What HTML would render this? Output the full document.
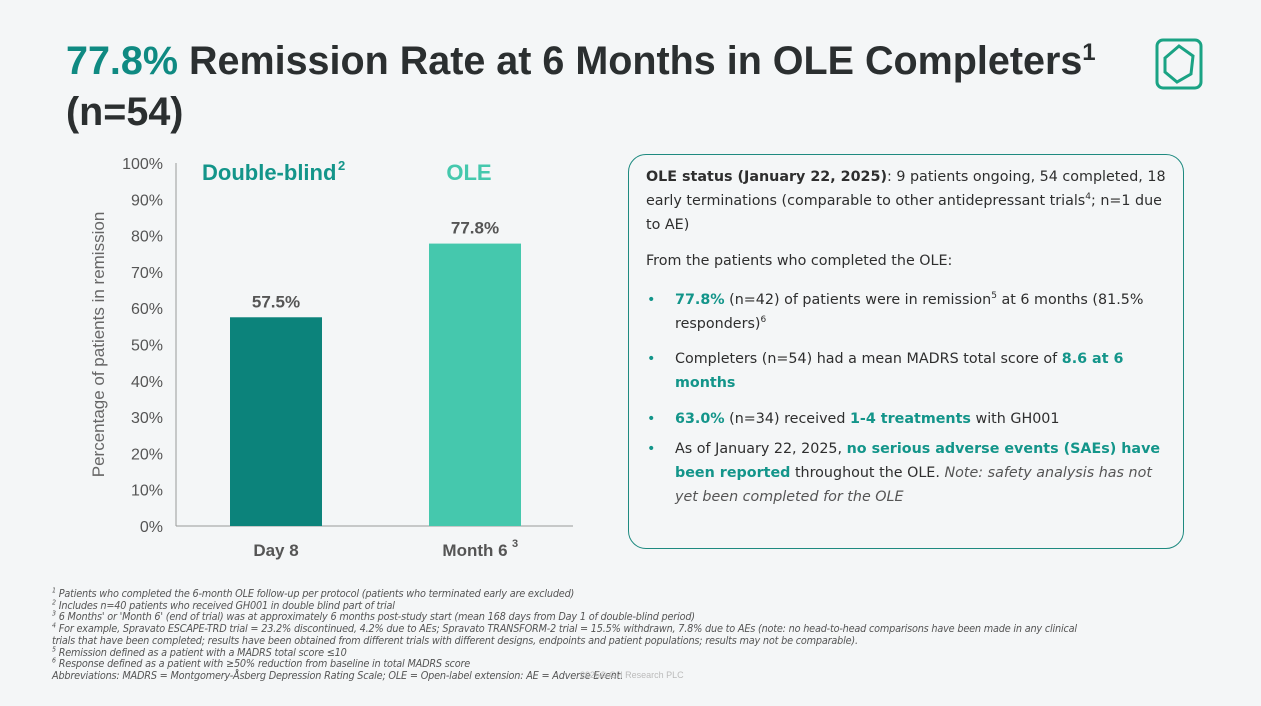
<!DOCTYPE html>
<html><head><meta charset="utf-8"><style>
body{margin:0;width:1261px;height:706px;overflow:hidden;background:#f4f6f7;font-family:"Liberation Sans",sans-serif;position:relative}
.t{position:absolute}
sup{line-height:0;vertical-align:super}
#title{left:66px;top:36px;font-size:39.5px;font-weight:bold;color:#2b2f30;line-height:51px}
#title .hl{color:#0f8a82}
#panel{left:628px;top:154px;width:556px;height:395px;border:1.5px solid #1e8a80;border-radius:18px;box-sizing:border-box;background:#f4f6f7}
.p{position:absolute;font-family:"DejaVu Sans","Liberation Sans",sans-serif;font-size:14.3px;color:#2e2e2e;line-height:24px}
.p sup{font-size:9px}
.g{color:#13958a;font-weight:bold}
.b{position:absolute;left:18px;color:#13958a}
.fn{position:absolute;left:52px;font-style:italic;font-size:10.8px;color:#555;line-height:11.7px;top:588px;font-family:"DejaVu Sans Condensed","Liberation Sans Narrow","Liberation Sans",sans-serif;letter-spacing:-0.2px}
.fn sup{font-size:7px}
</style></head><body>
<div class="t" id="title"><span class="hl">77.8%</span> Remission Rate at 6 Months in OLE Completers<sup style="font-size:24px">1</sup><br>(n=54)</div>
<svg class="t" style="left:1155px;top:38px" width="48" height="52" viewBox="0 0 48 52"><rect x="2" y="2" width="44" height="48" rx="6" fill="none" stroke="#1aa384" stroke-width="3"/><path d="M10 20 L24 8 L38 18 L36 36 L22 44 L10 34Z" fill="none" stroke="#1aa384" stroke-width="3"/></svg>
<svg class="t" id="chart" style="left:0;top:140px" width="620" height="430"></svg>
<div class="t" id="panel">
<div class="p" style="left:17px;top:10px;width:525px"><b>OLE status (January 22, 2025)</b>: 9 patients ongoing, 54 completed, 18 early terminations (comparable to other antidepressant trials<sup>4</sup>; n=1 due to AE)</div>
<div class="p" style="left:17px;top:94px">From the patients who completed the OLE:</div>
<div class="p" style="top:133px;left:0;width:540px"><span class="b">•</span><div style="margin-left:46px"><span class="g">77.8%</span> (n=42) of patients were in remission<sup>5</sup> at 6 months (81.5% responders)<sup>6</sup></div></div>
<div class="p" style="top:192px;left:0;width:540px"><span class="b">•</span><div style="margin-left:46px">Completers (n=54) had a mean MADRS total score of <span class="g">8.6 at 6 months</span></div></div>
<div class="p" style="top:252px;left:0;width:540px"><span class="b">•</span><div style="margin-left:46px"><span class="g">63.0%</span> (n=34) received <span class="g">1-4 treatments</span> with GH001</div></div>
<div class="p" style="top:282px;left:0;width:540px"><span class="b">•</span><div style="margin-left:46px">As of January 22, 2025, <span class="g">no serious adverse events (SAEs) have been reported</span> throughout the OLE. <i style="color:#555">Note: safety analysis has not yet been completed for the OLE</i></div></div>
</div>
<div class="fn">
<sup>1</sup> Patients who completed the 6-month OLE follow-up per protocol (patients who terminated early are excluded)<br>
<sup>2</sup> Includes n=40 patients who received GH001 in double blind part of trial<br>
<sup>3</sup> 6 Months' or 'Month 6' (end of trial) was at approximately 6 months post-study start (mean 168 days from Day 1 of double-blind period)<br>
<sup>4</sup> For example, Spravato ESCAPE-TRD trial = 23.2% discontinued, 4.2% due to AEs; Spravato TRANSFORM-2 trial = 15.5% withdrawn, 7.8% due to AEs (note: no head-to-head comparisons have been made in any clinical<br>
trials that have been completed; results have been obtained from different trials with different designs, endpoints and patient populations; results may not be comparable).<br>
<sup>5</sup> Remission defined as a patient with a MADRS total score ≤10<br>
<sup>6</sup> Response defined as a patient with ≥50% reduction from baseline in total MADRS score<br>
Abbreviations: MADRS = Montgomery-Åsberg Depression Rating Scale; OLE = Open-label extension: AE = Adverse Event.</div>
<div class="t" style="left:580px;top:670px;font-size:9px;color:#bbb">2025© GH Research PLC</div>
<script>
const categories=["Day 8","Month 6"];
const values=[57.5,77.8];
const valueLabels=["57.5%","77.8%"];
const ticks=[0,10,20,30,40,50,60,70,80,90,100];
const colors=["#0c837b","#45c8ad"];
const NS="http://www.w3.org/2000/svg";
const svg=document.getElementById('chart');
const y0=386,yTop=23;
const y=v=>y0-(v/100)*(y0-yTop);
const xs=c=>230+c*199;
function el(t,a,txt){const e=document.createElementNS(NS,t);for(const k in a)e.setAttribute(k,a[k]);if(txt!=null)e.textContent=txt;svg.appendChild(e);return e;}
ticks.forEach(t=>{const e=el('text',{x:163,y:y(t)+6,'text-anchor':'end','font-size':16,fill:'#555'},t+'%');

});
let a=el('line',{x1:176,y1:yTop,x2:176,y2:y0,stroke:'#999'});

let b=el('line',{x1:176,y1:y0,x2:573,y2:y0,stroke:'#999'});

values.forEach((v,i)=>{
const r=el('rect',{x:xs(i),y:y(v),width:92,height:y0-y(v),fill:colors[i]});


const l=el('text',{x:xs(i)+46,y:y(v)-10,'text-anchor':'middle','font-size':17,'font-weight':'bold',fill:'#555'},valueLabels[i]);


const c=el('text',{x:xs(i)+46,y:y0+30,'text-anchor':'middle','font-size':17,'font-weight':'bold',fill:'#555'},categories[i]);


});
el('text',{x:512,y:y0+21,'font-size':11,'font-weight':'bold',fill:'#555'},'3');
let h1=el('text',{x:202,y:40,'font-size':22,'font-weight':'bold',fill:'#13958a'},'Double-blind');

el('text',{x:338,y:30,'font-size':13,'font-weight':'bold',fill:'#13958a'},'2');
let h2=el('text',{x:469,y:40,'text-anchor':'middle','font-size':22,'font-weight':'bold',fill:'#45c8ad'},'OLE');

let yt=el('text',{x:104,y:(y0+yTop)/2,'text-anchor':'middle','font-size':17,fill:'#666',transform:`rotate(-90 104 ${(y0+yTop)/2})`},'Percentage of patients in remission');

</script>
</body></html>
